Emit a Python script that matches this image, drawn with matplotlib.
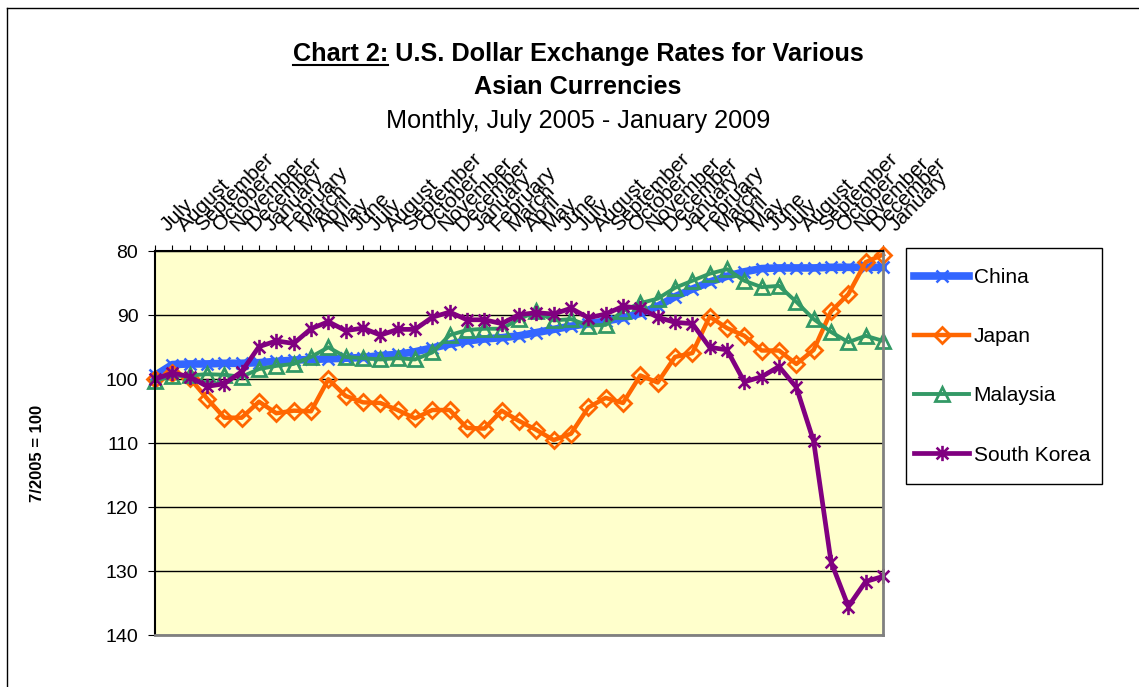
import numpy as np
import matplotlib
matplotlib.use("Agg")
import matplotlib.pyplot as plt
from matplotlib.path import Path
from matplotlib.patches import Rectangle
from matplotlib.lines import Line2D
from matplotlib.transforms import ScaledTranslation

plt.rcParams["font.family"] = ["Liberation Sans", "DejaVu Sans"]

month_labels = ["July", "August", "September", "October", "November", "December",
                "January", "February", "March", "April", "May", "June",
                "July", "August", "September", "October", "November", "December",
                "January", "February", "March", "April", "May", "June",
                "July", "August", "September", "October", "November", "December",
                "January", "February", "March", "April", "May", "June",
                "July", "August", "September", "October", "November", "December",
                "January"]

china = [99.4, 97.7, 97.6, 97.6, 97.5, 97.5, 97.4, 97.2, 97.0, 96.9, 96.8, 96.7,
         96.6, 96.3, 96.1, 95.7, 95.1, 94.5, 94.0, 93.7, 93.5, 93.2, 92.7, 92.2,
         91.7, 91.3, 90.9, 90.4, 89.7, 88.6, 87.1, 85.9, 84.8, 83.9, 83.2, 82.7,
         82.6, 82.6, 82.6, 82.5, 82.5, 82.5, 82.5]
japan = [100.0, 99.0, 99.8, 103.0, 106.0, 106.0, 103.5, 105.3, 104.9, 105.0, 100.0, 102.6,
         103.6, 103.7, 104.8, 106.1, 104.8, 104.8, 107.6, 107.7, 104.9, 106.5, 107.9, 109.5,
         108.5, 104.4, 102.9, 103.7, 99.4, 100.5, 96.5, 95.9, 90.2, 92.0, 93.2, 95.5,
         95.5, 97.6, 95.4, 89.4, 86.7, 81.7, 80.5]
malaysia = [100.2, 99.5, 99.4, 99.2, 99.3, 99.6, 98.4, 97.9, 97.6, 96.5, 95.0, 96.5,
            96.7, 96.9, 96.7, 96.9, 95.8, 93.1, 92.3, 92.1, 92.1, 90.6, 89.4, 90.8,
            90.6, 91.6, 91.5, 89.3, 88.1, 87.4, 85.7, 84.6, 83.5, 82.8, 84.6, 85.6,
            85.4, 87.9, 90.6, 92.6, 94.2, 93.2, 94.0]
south_korea = [100.0, 99.0, 99.6, 101.1, 100.7, 98.8, 94.9, 94.0, 94.4, 92.1, 91.0, 92.4,
               92.0, 93.1, 92.2, 92.2, 90.3, 89.5, 90.7, 90.7, 91.3, 89.9, 89.6, 89.8,
               88.9, 90.4, 89.8, 88.6, 88.9, 90.3, 91.1, 91.3, 95.0, 95.4, 100.4, 99.6,
               98.0, 101.25, 109.7, 128.5, 135.5, 131.6, 130.8]

x = np.arange(len(month_labels))

# excel style star: an x plus a vertical bar
star = Path([(-1, -1), (1, 1), (-1, 1), (1, -1), (0, -1.3), (0, 1.3)],
            [Path.MOVETO, Path.LINETO, Path.MOVETO, Path.LINETO, Path.MOVETO, Path.LINETO])

W, H = 1139, 687
fig = plt.figure(figsize=(W / 100, H / 100), dpi=100)
ax = fig.add_axes([155 / W, 1 - 635.3 / H, 728 / W, 384 / H])
ax.set_facecolor("#FFFFCC")

styles = [
    ("China", china, dict(color="#3366FF", lw=5.5, marker="x", ms=9, mew=1.8)),
    ("Japan", japan, dict(color="#FF6600", lw=3.2, marker="D", ms=8.5, mew=2.0, mfc="none")),
    ("Malaysia", malaysia, dict(color="#339966", lw=2.8, marker="^", ms=10.5, mew=2.0, mfc="none")),
    ("South Korea", south_korea, dict(color="#800080", lw=3.4, marker=star, ms=11, mew=1.9)),
]
handles = []
for name, vals, kw in styles:
    ax.plot(x, vals, clip_on=False, **kw)
    handles.append(Line2D([0, 1], [0, 0], **kw))

ax.set_xlim(0, 42)
ax.set_ylim(140, 80)
ax.set_yticks([80, 90, 100, 110, 120, 130, 140])
ax.yaxis.grid(True, color="black", lw=1.0)
ax.set_axisbelow(True)
ax.tick_params(axis="y", labelsize=14, length=5, pad=7, direction="out")

ax.xaxis.tick_top()
ax.set_xticks(x)
ax.set_xticklabels([])
ax.tick_params(axis="x", length=4, direction="out")

for s in ["left", "top"]:
    ax.spines[s].set_color("black")
    ax.spines[s].set_linewidth(1.5)
for s in ["right", "bottom"]:
    ax.spines[s].set_color("#808080")
    ax.spines[s].set_linewidth(2)

offset = ScaledTranslation(13 / 100, 19 / 100, fig.dpi_scale_trans)
for i, lab in enumerate(month_labels):
    ax.text(i, 1.0, lab, transform=ax.get_xaxis_transform() + offset,
            rotation=45, rotation_mode="anchor", ha="left", va="baseline", fontsize=15)

# title
cx = 578 / W
t1 = fig.text(cx, 1 - 61 / H, "Chart 2: U.S. Dollar Exchange Rates for Various",
              ha="center", va="baseline", fontsize=18.2, fontweight="bold")
fig.text(cx, 1 - 94 / H, "Asian Currencies", ha="center", va="baseline",
         fontsize=18.2, fontweight="bold")
fig.text(cx, 1 - 128 / H, "Monthly, July 2005 - January 2009", ha="center", va="baseline",
         fontsize=18.2)

fig.canvas.draw()
r = fig.canvas.get_renderer()
bb = t1.get_window_extent(r)
tmp = fig.text(0, 0, "Chart 2:", fontsize=18.2, fontweight="bold")
wpart = tmp.get_window_extent(r).width
tmp.remove()
uy = 1 - 65 / H
fig.add_artist(Line2D([bb.x0 / W, (bb.x0 + wpart) / W], [uy, uy], color="black", lw=1.5))

fig.text(38 / W, 1 - 453 / H, "7/2005 = 100", rotation=90, ha="center", va="center",
         fontsize=12, fontweight="bold")

# legend frame and entries
fig.patches.append(Rectangle((906 / W, 1 - 484 / H), 196 / W, 236 / H, transform=fig.transFigure,
                             facecolor="white", edgecolor="black", lw=1))
fig.legend(handles, [s[0] for s in styles], loc="upper left",
           bbox_to_anchor=(914 / W, 1 - 268 / H), bbox_transform=fig.transFigure,
           frameon=False, fontsize=15, borderpad=0, borderaxespad=0,
           labelspacing=1.93, handlelength=2.64, handletextpad=0.22)

# outer chart border
fig.add_artist(Line2D([7 / W, 7 / W], [0, 1 - 8 / H], color="black", lw=1))
fig.add_artist(Line2D([7 / W, 1], [1 - 8 / H, 1 - 8 / H], color="black", lw=1))

fig.savefig("out.png", dpi=100)
